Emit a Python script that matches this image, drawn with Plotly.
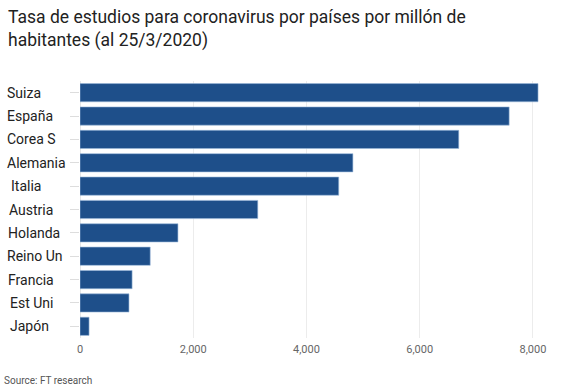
import plotly.graph_objects as go

countries = ["Suiza", "España", "Corea S", "Alemania", "Italia", "Austria",
             "Holanda", "Reino Un", "Francia", "Est Uni", "Japón"]
tests_per_million = [8090, 7580, 6690, 4820, 4570, 3140, 1730, 1240, 920, 865, 160]
x_ticks = [0, 2000, 4000, 6000, 8000]
x_tick_labels = ["0", "2,000", "4,000", "6,000", "8,000"]
label_offsets = [5, 5, 5, 5, 9, 7, 6, 5, 6, 8, 8]  # px from left edge

W, H = 566, 385
ML, MR, MT, MB = 80, 24, 81, 47
PW = W - ML - MR
PH = H - MT - MB

fig = go.Figure(go.Bar(
    x=tests_per_million, y=countries, orientation="h",
    marker=dict(color="#1e4f8a", line=dict(color="#9bb8da", width=0.6)),
    hoverinfo="x+y",
))

annotations = []
for c, off in zip(countries, label_offsets):
    annotations.append(dict(
        x=(off - ML) / PW, xref="paper", y=c, yref="y", text=c,
        showarrow=False, xanchor="left", yanchor="middle",
        font=dict(family="Roboto", size=14, color="#222222")))
annotations.append(dict(
    x=(2 - ML) / PW, xref="paper", y=-(380 - (H - MB)) / PH,
    yref="paper", text="Source: FT research", showarrow=False,
    xanchor="left", yanchor="middle",
    font=dict(family="Roboto", size=10, color="#555555")))
annotations.append(dict(
    x=(6 - ML) / PW, xref="paper", y=1 + (MT - 5) / PH, yref="paper",
    text="Tasa de estudios para coronavirus por países por millón de<br>habitantes (al 25/3/2020)",
    showarrow=False, xanchor="left", yanchor="top", align="left",
    font=dict(family="Roboto", size=17.5, color="#222222")))

fig.update_layout(
    width=W, height=H,
    margin=dict(l=ML, r=MR, t=MT, b=MB),
    paper_bgcolor="white", plot_bgcolor="white",
    bargap=0.22, showlegend=False,
    xaxis=dict(range=[0, 8160], tickvals=x_ticks, ticktext=x_tick_labels,
               showgrid=True, gridcolor="#ececec", gridwidth=1,
               zeroline=True, zerolinecolor="#e6e6e6", zerolinewidth=1,
               tickfont=dict(family="Roboto", size=11, color="#666666"),
               ticks="", showline=False, fixedrange=True, ticklabelstandoff=3),
    yaxis=dict(autorange="reversed", showticklabels=False,
               ticks="outside", ticklen=9, tickcolor="#dddddd", tickwidth=1,
               showgrid=False, showline=False, fixedrange=True),
    annotations=annotations,
)

fig.write_html("out.html", config={"displayModeBar": False},
               post_script="document.body.style.margin='0';document.body.style.overflow='hidden';")
